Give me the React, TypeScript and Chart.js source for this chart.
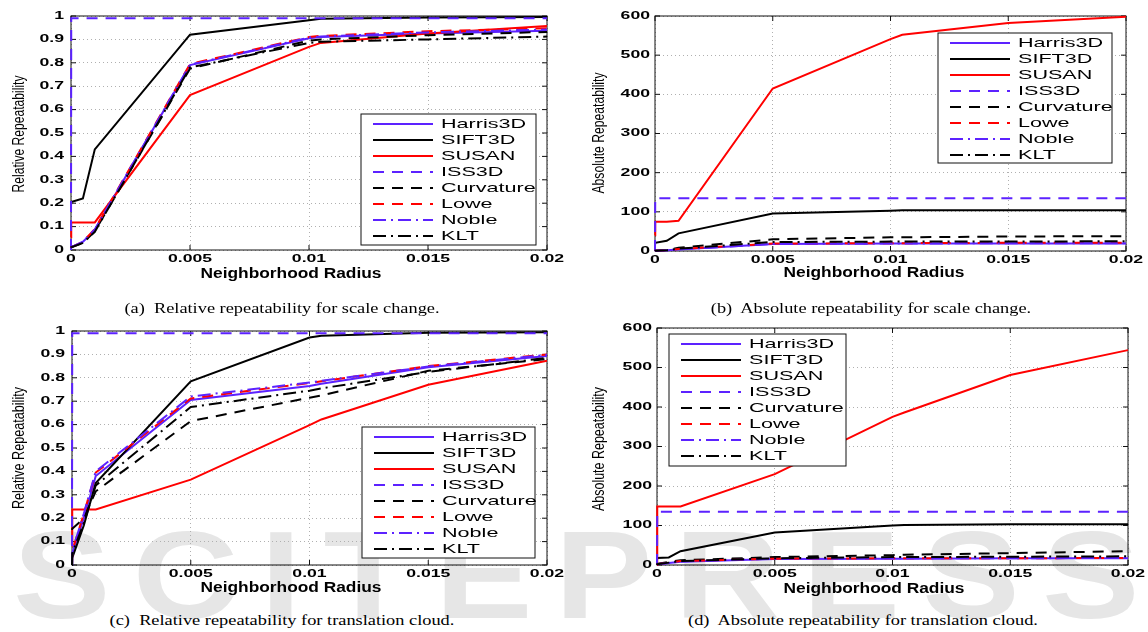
import React, { useEffect, useRef } from "react";
import { Chart, registerables } from "chart.js";

Chart.register(...registerables);

// ---------------- data ----------------
const radius = [0, 0.00001, 0.0005, 0.001, 0.005, 0.01, 0.0105, 0.015, 0.02];
const radiusTicks = [0, 0.005, 0.01, 0.015, 0.02];
const radiusTickLabels = ["0", "0.005", "0.01", "0.015", "0.02"];
const relativeTicks = [0, 0.1, 0.2, 0.3, 0.4, 0.5, 0.6, 0.7, 0.8, 0.9, 1];
const relativeTickLabels = ["0", "0.1", "0.2", "0.3", "0.4", "0.5", "0.6", "0.7", "0.8", "0.9", "1"];
const absoluteTicks = [0, 100, 200, 300, 400, 500, 600];
const absoluteTickLabels = ["0", "100", "200", "300", "400", "500", "600"];
const detectorNames = ["Harris3D", "SIFT3D", "SUSAN", "ISS3D", "Curvature", "Lowe", "Noble", "KLT"];

// (a) relative repeatability, scale change
const scaleRelHarris3D = [0.01, 0.012, 0.035, 0.085, 0.79, 0.905, 0.91, 0.925, 0.937];
const scaleRelSIFT3D = [0.2, 0.205, 0.22, 0.43, 0.92, 0.982, 0.988, 0.994, 0.996];
const scaleRelSUSAN = [0.055, 0.118, 0.118, 0.118, 0.662, 0.868, 0.885, 0.925, 0.957];
const scaleRelISS3D = [0, 0.99, 0.99, 0.99, 0.99, 0.99, 0.99, 0.99, 0.99];
const scaleRelCurvature = [0.01, 0.012, 0.03, 0.08, 0.775, 0.895, 0.9, 0.918, 0.932];
const scaleRelLowe = [0.01, 0.012, 0.035, 0.09, 0.795, 0.91, 0.915, 0.935, 0.948];
const scaleRelNoble = [0.01, 0.012, 0.035, 0.088, 0.792, 0.908, 0.912, 0.93, 0.942];
const scaleRelKLT = [0.01, 0.012, 0.03, 0.078, 0.78, 0.885, 0.89, 0.9, 0.912];

// (b) absolute repeatability, scale change
const scaleAbsHarris3D = [0, 0.5, 2, 4, 18, 19, 19, 19, 19];
const scaleAbsSIFT3D = [20, 21, 26, 45, 96, 103, 104, 104, 104];
const scaleAbsSUSAN = [40, 75, 75, 77, 415, 541, 552, 582, 598];
const scaleAbsISS3D = [0, 135, 135, 135, 135, 135, 135, 135, 135];
const scaleAbsCurvature = [0, 0.5, 3, 8, 30, 35, 35, 37, 38];
const scaleAbsLowe = [0, 0.5, 2, 5, 19, 20, 20, 21, 21];
const scaleAbsNoble = [0, 0.5, 2, 4, 18, 19, 19, 20, 20];
const scaleAbsKLT = [0, 0.5, 2, 6, 23, 24, 24, 24, 25];

// (c) relative repeatability, translation cloud
const transRelHarris3D = [0, 0.05, 0.2, 0.38, 0.705, 0.765, 0.775, 0.845, 0.893];
const transRelSIFT3D = [0, 0.03, 0.17, 0.35, 0.785, 0.972, 0.98, 0.993, 0.995];
const transRelSUSAN = [0.08, 0.237, 0.237, 0.237, 0.365, 0.598, 0.622, 0.77, 0.873];
const transRelISS3D = [0, 0.99, 0.99, 0.99, 0.99, 0.99, 0.99, 0.99, 0.99];
const transRelCurvature = [0.15, 0.155, 0.2, 0.315, 0.615, 0.715, 0.725, 0.83, 0.88];
const transRelLowe = [0, 0.06, 0.22, 0.395, 0.712, 0.778, 0.785, 0.85, 0.9];
const transRelNoble = [0, 0.06, 0.22, 0.4, 0.72, 0.78, 0.787, 0.848, 0.898];
const transRelKLT = [0, 0.05, 0.18, 0.34, 0.675, 0.745, 0.755, 0.825, 0.885];

// (d) absolute repeatability, translation cloud
const transAbsHarris3D = [0, 2, 5, 8, 15, 16, 16, 17, 17];
const transAbsSIFT3D = [17, 18, 19, 35, 82, 100, 101, 103, 103];
const transAbsSUSAN = [0, 148, 148, 148, 230, 375, 386, 481, 544];
const transAbsISS3D = [0, 135, 135, 135, 135, 135, 135, 135, 135];
const transAbsCurvature = [0, 3, 8, 12, 20, 25, 26, 30, 35];
const transAbsLowe = [0, 2, 6, 10, 16, 17, 17, 17, 18];
const transAbsNoble = [0, 2, 5, 9, 16, 17, 17, 17, 18];
const transAbsKLT = [0, 2, 6, 10, 17, 20, 20, 21, 22];

// ---------------- styles ----------------
const BLUE = "#5c22ff";
const RED = "#ff0000";
const BLACK = "#000000";
const DASH = [11, 8];
const DASHDOT = [13, 5, 2, 5];
const seriesStyles = [
  { color: BLUE, dash: [] as number[] },
  { color: BLACK, dash: [] as number[] },
  { color: RED, dash: [] as number[] },
  { color: BLUE, dash: DASH },
  { color: BLACK, dash: DASH },
  { color: RED, dash: DASH },
  { color: BLUE, dash: DASHDOT },
  { color: BLACK, dash: DASHDOT },
];

type Box = { l: number; t: number; r: number; b: number };
type Panel = {
  id: string;
  canvas: { left: number; top: number; w: number; h: number };
  area: Box;
  series: number[][];
  yMax: number;
  yTicks: number[];
  yTickLabels: string[];
  yTitle: string;
  yTitlePos: [number, number];
  yTitleLen: number;
  xTitlePos: [number, number];
  yLabelGap: number;
  legend: Box;
};

const panels: Panel[] = [
  {
    id: "a",
    canvas: { left: 0, top: 0, w: 574, h: 300 },
    area: { l: 71, r: 547, t: 16, b: 250 },
    series: [scaleRelHarris3D, scaleRelSIFT3D, scaleRelSUSAN, scaleRelISS3D, scaleRelCurvature, scaleRelLowe, scaleRelNoble, scaleRelKLT],
    yMax: 1,
    yTicks: relativeTicks,
    yTickLabels: relativeTickLabels,
    yTitle: "Relative Repeatability",
    yTitlePos: [19, 134],
    yTitleLen: 117,
    xTitlePos: [291, 274],
    yLabelGap: 7,
    legend: { l: 361, t: 114, r: 536, b: 245 },
  },
  {
    id: "b",
    canvas: { left: 574, top: 0, w: 574, h: 300 },
    area: { l: 655, r: 1126, t: 16, b: 251 },
    series: [scaleAbsHarris3D, scaleAbsSIFT3D, scaleAbsSUSAN, scaleAbsISS3D, scaleAbsCurvature, scaleAbsLowe, scaleAbsNoble, scaleAbsKLT],
    yMax: 600,
    yTicks: absoluteTicks,
    yTickLabels: absoluteTickLabels,
    yTitle: "Absolute Repeatability",
    yTitlePos: [599, 133],
    yTitleLen: 121,
    xTitlePos: [874, 273],
    yLabelGap: 5,
    legend: { l: 938, t: 33, r: 1112, b: 163 },
  },
  {
    id: "c",
    canvas: { left: 0, top: 300, w: 574, h: 300 },
    area: { l: 72, r: 547, t: 331, b: 565 },
    series: [transRelHarris3D, transRelSIFT3D, transRelSUSAN, transRelISS3D, transRelCurvature, transRelLowe, transRelNoble, transRelKLT],
    yMax: 1,
    yTicks: relativeTicks,
    yTickLabels: relativeTickLabels,
    yTitle: "Relative Repeatability",
    yTitlePos: [19, 448],
    yTitleLen: 122,
    xTitlePos: [291, 588],
    yLabelGap: 7,
    legend: { l: 362, t: 427, r: 535, b: 558 },
  },
  {
    id: "d",
    canvas: { left: 574, top: 300, w: 574, h: 300 },
    area: { l: 657, r: 1128, t: 328, b: 565 },
    series: [transAbsHarris3D, transAbsSIFT3D, transAbsSUSAN, transAbsISS3D, transAbsCurvature, transAbsLowe, transAbsNoble, transAbsKLT],
    yMax: 600,
    yTicks: absoluteTicks,
    yTickLabels: absoluteTickLabels,
    yTitle: "Absolute Repeatability",
    yTitlePos: [599, 449],
    yTitleLen: 124,
    xTitlePos: [874, 589],
    yLabelGap: 5,
    legend: { l: 669, t: 334, r: 846, b: 466 },
  },
];

const captions = [
  { text: "(a)  Relative repeatability for scale change.", cx: 282, cy: 310 },
  { text: "(b)  Absolute repeatability for scale change.", cx: 871, cy: 310 },
  { text: "(c)  Relative repeatability for translation cloud.", cx: 282, cy: 622 },
  { text: "(d)  Absolute repeatability for translation cloud.", cx: 863, cy: 622 },
];

const TICK_FONT = 'bold 10.5px "Liberation Sans", Arial, sans-serif';
const TICK_SX = 1.68;
const LEGEND_FONT = '13px "Liberation Sans", Arial, sans-serif';
const LEGEND_SX = 1.66;
const XTITLE_FONT = 'bold 14px "Liberation Sans", Arial, sans-serif';
const XTITLE_W = 181;
const YTITLE_FONT = '17px "Liberation Sans", Arial, sans-serif';

function stretchText(
  ctx: CanvasRenderingContext2D,
  text: string,
  x: number,
  y: number,
  font: string,
  sx: number,
  align: "left" | "right" | "center"
) {
  ctx.save();
  ctx.font = font;
  ctx.fillStyle = "#000";
  ctx.textBaseline = "middle";
  ctx.textAlign = "left";
  const w = ctx.measureText(text).width * sx;
  const x0 = align === "left" ? x : align === "right" ? x - w : x - w / 2;
  ctx.translate(x0, y);
  ctx.scale(sx, 1);
  ctx.fillText(text, 0, 0);
  ctx.restore();
}

function makeDecor(p: Panel) {
  const ox = p.canvas.left;
  const oy = p.canvas.top;
  return {
    id: "decor_" + p.id,
    beforeDatasetsDraw(chart: any) {
      const ctx: CanvasRenderingContext2D = chart.ctx;
      const { left, right, top, bottom } = chart.chartArea;
      const xs = chart.scales.x;
      const ys = chart.scales.y;
      ctx.save();
      ctx.strokeStyle = "#111";
      ctx.lineWidth = 1;
      ctx.setLineDash([]);
      ctx.strokeRect(left, top, right - left, bottom - top);
      ctx.beginPath();
      radiusTicks.forEach((v) => {
        const px = xs.getPixelForValue(v);
        ctx.moveTo(px, bottom);
        ctx.lineTo(px, bottom - 5);
        ctx.moveTo(px, top);
        ctx.lineTo(px, top + 5);
      });
      p.yTicks.forEach((v) => {
        const py = ys.getPixelForValue(v);
        ctx.moveTo(left, py);
        ctx.lineTo(left + 5, py);
        ctx.moveTo(right, py);
        ctx.lineTo(right - 5, py);
      });
      ctx.stroke();
      ctx.restore();
    },
    afterDraw(chart: any) {
      const ctx: CanvasRenderingContext2D = chart.ctx;
      const { left, bottom } = chart.chartArea;
      const xs = chart.scales.x;
      const ys = chart.scales.y;
      // tick labels
      radiusTicks.forEach((v, i) => {
        stretchText(ctx, radiusTickLabels[i], xs.getPixelForValue(v), bottom + 9, TICK_FONT, TICK_SX, "center");
      });
      p.yTicks.forEach((v, i) => {
        stretchText(ctx, p.yTickLabels[i], left - p.yLabelGap, ys.getPixelForValue(v), TICK_FONT, TICK_SX, "right");
      });
      // x title
      ctx.save();
      ctx.font = XTITLE_FONT;
      const xtw = ctx.measureText("Neighborhood Radius").width;
      ctx.restore();
      stretchText(ctx, "Neighborhood Radius", p.xTitlePos[0] - ox, p.xTitlePos[1] - oy, XTITLE_FONT, XTITLE_W / xtw, "center");
      // y title (rotated, compressed along text)
      ctx.save();
      ctx.font = YTITLE_FONT;
      const ytw = ctx.measureText(p.yTitle).width;
      ctx.fillStyle = "#000";
      ctx.textAlign = "center";
      ctx.textBaseline = "middle";
      ctx.translate(p.yTitlePos[0] - ox, p.yTitlePos[1] - oy);
      ctx.rotate(-Math.PI / 2);
      ctx.scale(p.yTitleLen / ytw, 1);
      ctx.fillText(p.yTitle, 0, 0);
      ctx.restore();
      // legend
      const L = p.legend;
      const lx = L.l - ox;
      const ly = L.t - oy;
      ctx.save();
      ctx.fillStyle = "#fff";
      ctx.fillRect(lx, ly, L.r - L.l, L.b - L.t);
      ctx.strokeStyle = "#111";
      ctx.lineWidth = 1;
      ctx.strokeRect(lx, ly, L.r - L.l, L.b - L.t);
      ctx.restore();
      detectorNames.forEach((name, i) => {
        const ry = ly + 10 + i * 16;
        const st = seriesStyles[i];
        ctx.save();
        ctx.strokeStyle = st.color;
        ctx.lineWidth = 2;
        ctx.setLineDash(st.dash);
        ctx.beginPath();
        ctx.moveTo(lx + 12, ry);
        ctx.lineTo(lx + 72, ry);
        ctx.stroke();
        ctx.restore();
        stretchText(ctx, name, lx + 80, ry + 0.5, LEGEND_FONT, LEGEND_SX, "left");
      });
    },
  };
}

function ChartPanel({ panel }: { panel: Panel }) {
  const ref = useRef<HTMLCanvasElement | null>(null);
  useEffect(() => {
    const canvas = ref.current;
    if (!canvas) return;
    const c = panel.canvas;
    const a = panel.area;
    const datasets = detectorNames.map((name, i) => ({
      label: name,
      data: radius.map((r, j) => ({ x: r, y: panel.series[i][j] })),
      borderColor: seriesStyles[i].color,
      backgroundColor: seriesStyles[i].color,
      borderDash: seriesStyles[i].dash,
      borderWidth: 2,
      pointRadius: 0,
      fill: false,
      tension: 0,
      clip: false as any,
      order: detectorNames.length - i,
    }));
    const chart = new Chart(canvas, {
      type: "line",
      data: { datasets },
      options: {
        animation: false,
        responsive: false,
        devicePixelRatio: 1,
        events: [],
        layout: {
          padding: {
            left: a.l - c.left,
            right: c.left + c.w - a.r,
            top: a.t - c.top,
            bottom: c.top + c.h - a.b,
          },
        },
        plugins: {
          legend: { display: false },
          tooltip: { enabled: false },
          title: { display: false },
        },
        scales: {
          x: {
            type: "linear",
            min: 0,
            max: 0.02,
            afterBuildTicks: (s: any) => {
              s.ticks = radiusTicks.map((v) => ({ value: v }));
            },
            afterFit: (s: any) => {
              s.height = 0;
            },
            ticks: { display: false },
            grid: { color: "#b0b0b0", lineWidth: 1, drawTicks: false },
            border: { display: false, dash: [1, 3] },
          },
          y: {
            type: "linear",
            min: 0,
            max: panel.yMax,
            afterBuildTicks: (s: any) => {
              s.ticks = panel.yTicks.map((v) => ({ value: v }));
            },
            afterFit: (s: any) => {
              s.width = 0;
            },
            ticks: { display: false },
            grid: { color: "#b0b0b0", lineWidth: 1, drawTicks: false },
            border: { display: false, dash: [1, 3] },
          },
        },
      } as any,
      plugins: [makeDecor(panel)],
    });
    return () => chart.destroy();
  }, [panel]);
  return (
    <canvas
      ref={ref}
      width={panel.canvas.w}
      height={panel.canvas.h}
      style={{ position: "absolute", left: panel.canvas.left, top: panel.canvas.top, zIndex: 1 }}
    />
  );
}

export default function App() {
  return (
    <div
      style={{
        position: "absolute",
        left: 0,
        top: 0,
        width: 1148,
        height: 632,
        background: "#fff",
        overflow: "hidden",
      }}
    >
      <div
        style={{
          position: "absolute",
          left: 13,
          top: 512,
          font: 'bold 125px "Liberation Sans", Arial, sans-serif',
          lineHeight: "125px",
          letterSpacing: "19px",
          color: "#e6e6e6",
          whiteSpace: "nowrap",
          transform: "scaleX(1.17)",
          transformOrigin: "left top",
          zIndex: 0,
        }}
      >
        SCITEPRESS
      </div>
      {panels.map((p) => (
        <ChartPanel key={p.id} panel={p} />
      ))}
      {captions.map((c) => (
        <div
          key={c.text}
          style={{
            position: "absolute",
            left: c.cx - 300,
            top: c.cy - 9,
            width: 600,
            height: 18,
            lineHeight: "18px",
            textAlign: "center",
            font: '14px "Liberation Serif", "Times New Roman", serif',
            whiteSpace: "pre",
            transform: "scaleX(1.31)",
            transformOrigin: "center",
            color: "#000",
            zIndex: 2,
          }}
        >
          {c.text}
        </div>
      ))}
    </div>
  );
}
